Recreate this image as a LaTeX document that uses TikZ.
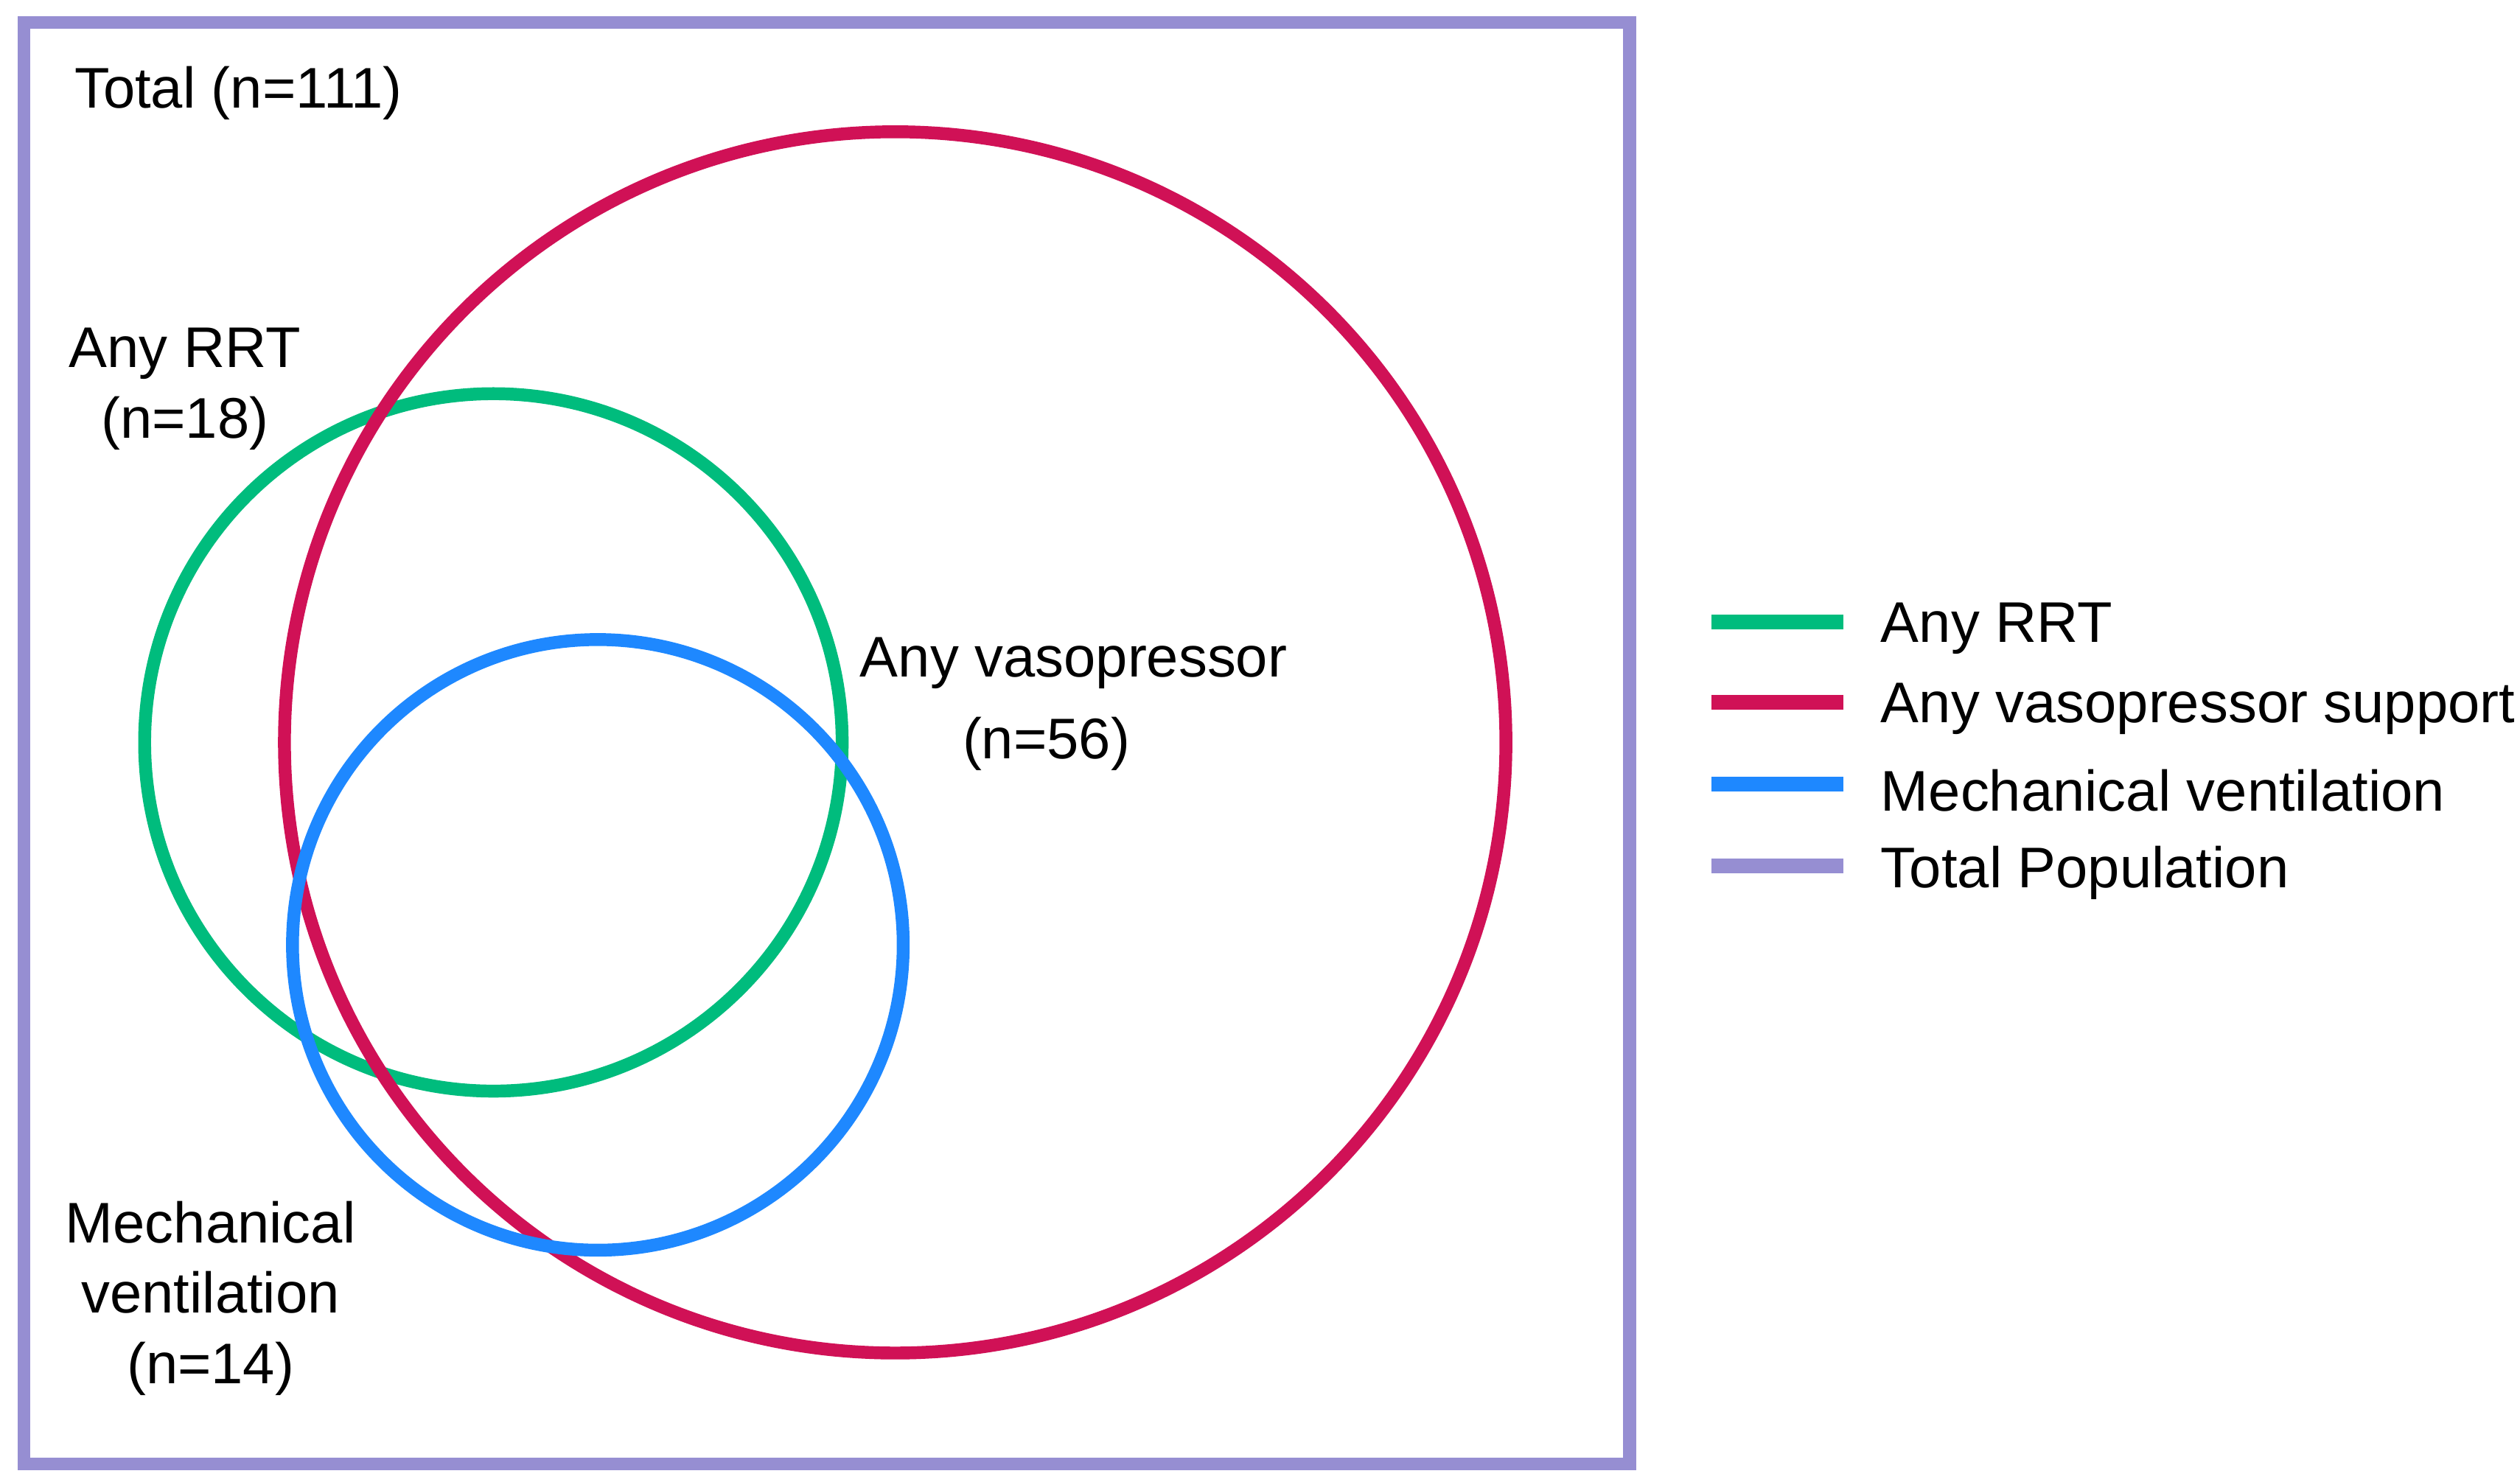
\documentclass[tikz,border=0pt]{standalone}
\usepackage{fontspec}
\setmainfont{Liberation Sans}
\usepackage{tikz}
\definecolor{rrtgreen}{RGB}{0,188,125}
\definecolor{vasored}{RGB}{208,17,86}
\definecolor{mvblue}{RGB}{30,136,255}
\definecolor{poplav}{RGB}{150,142,210}

\begin{document}
\begin{tikzpicture}[x=0.2mm,y=-0.2mm,
 ring/.style={circle,draw,line width=1.6mm,inner sep=0pt},
 txt/.style={inner sep=0pt,align=center,font=\fontsize{20.3}{25}\selectfont},
 key/.style={line width=1.8mm}]
\useasboundingbox (0,0) rectangle (1568,922);
% population frame
\draw[poplav,line width=1.6mm] (15,14) rectangle (1014,911);
\node[txt,anchor=west] (total) at (46,58) {Total (n=111)};
% sets
\node[ring,rrtgreen,minimum size=86.8mm] (rrt) at (307,462) {};
\node[ring,vasored,minimum size=152mm] (vaso) at (557,462) {};
\node[ring,mvblue,minimum size=76mm] (mv) at (372,588) {};
\node[txt] (rrtlbl) at (115,242) {Any RRT\\(n=18)};
\node[txt,font=\fontsize{20.3}{29}\selectfont] (vasolbl) at (668,438) {Any vasopressor\\(n=56)\hspace*{6.8mm}};
\node[txt] (mvlbl) at (131,808) {Mechanical\\ventilation\\(n=14)};
% legend
\node[txt,anchor=west] (keyrrt) at (1170,391) {Any RRT};
\node[txt,anchor=west] (keyvaso) at (1170,441) {Any vasopressor support};
\node[txt,anchor=west] (keymv) at (1170,492) {Mechanical ventilation};
\node[txt,anchor=west] (keypop) at (1170,543) {Total Population};
\draw[key,rrtgreen] ([xshift=-4.6mm,yshift=0.8mm]keyrrt.west) -- ++(-82,0);
\draw[key,vasored] ([xshift=-4.6mm,yshift=0.8mm]keyvaso.west) -- ++(-82,0);
\draw[key,mvblue] ([xshift=-4.6mm,yshift=0.8mm]keymv.west) -- ++(-82,0);
\draw[key,poplav] ([xshift=-4.6mm,yshift=0.8mm]keypop.west) -- ++(-82,0);
\end{tikzpicture}
\end{document}
